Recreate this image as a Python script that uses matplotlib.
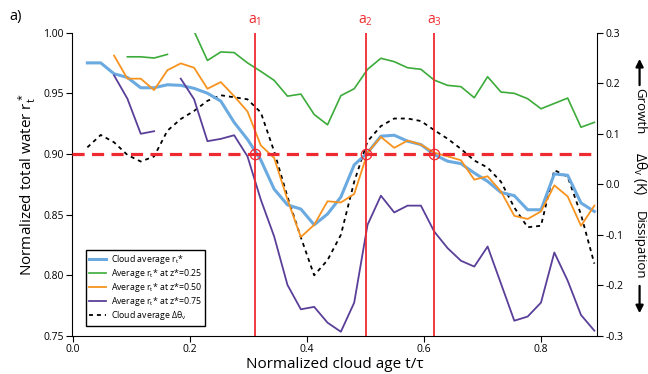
import numpy as np
import matplotlib.pyplot as plt

plt.rcParams['font.family'] = ['Open Sans', 'DejaVu Sans']
plt.rcParams['mathtext.default'] = 'regular'
plt.rcParams['axes.unicode_minus'] = False

nan = np.nan
# normalized cloud age t/tau
age = [0.0244, 0.0472, 0.0700, 0.0928, 0.1156, 0.1384, 0.1612, 0.1840, 0.2068, 0.2296,
       0.2524, 0.2752, 0.2980, 0.3208, 0.3436, 0.3664, 0.3892, 0.4120, 0.4348, 0.4576,
       0.4804, 0.5032, 0.5260, 0.5488, 0.5716, 0.5944, 0.6172, 0.6400, 0.6628, 0.6856,
       0.7084, 0.7312, 0.7540, 0.7768, 0.7996, 0.8224, 0.8452, 0.8680, 0.8908]

rt_cloud = [0.975, 0.975, 0.966, 0.963, 0.9545, 0.9545, 0.957, 0.9565, 0.954, 0.950,
            0.9435, 0.926, 0.912, 0.895, 0.871, 0.858, 0.8546, 0.8416, 0.8505, 0.8645,
            0.891, 0.901, 0.9146, 0.9154, 0.9105, 0.9077, 0.8995, 0.894, 0.892, 0.8843,
            0.8774, 0.8683, 0.8656, 0.854, 0.854, 0.8835, 0.8824, 0.8596, 0.8526]

rt_025 = [nan, nan, nan, 0.980, 0.980, 0.979, 0.982, nan, 1.001, 0.977,
          0.984, 0.9835, 0.975, 0.968, 0.9606, 0.9476, 0.9493, 0.9325, 0.924, 0.948,
          0.9537, 0.9697, 0.9788, 0.976, 0.971, 0.9697, 0.9608, 0.9565, 0.9554, 0.9463,
          0.9636, 0.951, 0.9499, 0.9455, 0.9372, 0.9416, 0.946, 0.922, 0.926]

rt_050 = [nan, nan, 0.981, 0.962, 0.962, 0.9526, 0.969, 0.9746, 0.971, 0.9537,
          0.9592, 0.9476, 0.935, 0.907, 0.8967, 0.8623, 0.8315, 0.8416, 0.861, 0.860,
          0.867, 0.901, 0.914, 0.905, 0.911, 0.9077, 0.901, 0.898, 0.8948, 0.8788,
          0.8816, 0.8691, 0.849, 0.8464, 0.8526, 0.8741, 0.865, 0.8408, 0.8574]

rt_075 = [nan, nan, 0.9647, 0.9455, 0.9166, 0.9187, nan, 0.962, 0.945, 0.9105,
          0.9124, 0.9154, 0.898, 0.8623, 0.832, 0.792, 0.772, 0.774, 0.761, 0.7535,
          0.7775, 0.8416, 0.8656, 0.8518, 0.8574, 0.8574, 0.836, 0.8224, 0.812, 0.8072,
          0.8237, 0.7932, 0.7626, 0.766, 0.7775, 0.8188, 0.7956, 0.7673, 0.7544]

dtheta = [0.073, 0.0975, 0.083, 0.058, 0.045, 0.055, 0.106, 0.129, 0.145, 0.165,
          0.176, 0.172, 0.168, 0.142, 0.065, -0.025, -0.105, -0.180, -0.150, -0.100,
          0.005, 0.085, 0.115, 0.130, 0.130, 0.125, 0.107, 0.090, 0.070, 0.047,
          0.033, 0.005, -0.046, -0.085, -0.082, 0.028, 0.015, -0.060, -0.157]

a_times = [0.311, 0.500, 0.617]
a_names = ['a$_1$', 'a$_2$', 'a$_3$']
threshold = 0.90

fig = plt.figure(figsize=(6.48, 3.74), dpi=100)
ax = fig.add_axes([0.111, 0.1016, 0.81, 0.8114])
ax2 = ax.twinx()

l1, = ax.plot(age, rt_cloud, color='#6aaae0', lw=2.2, label='Cloud average r$_t$*')
l2, = ax.plot(age, rt_025, color='#3cab3a', lw=1.2, label='Average r$_t$* at z*=0.25')
l3, = ax.plot(age, rt_050, color='#f7931e', lw=1.3, label='Average r$_t$* at z*=0.50')
l4, = ax.plot(age, rt_075, color='#5a3f99', lw=1.3, label='Average r$_t$* at z*=0.75')
l5, = ax2.plot(age, dtheta, color='black', lw=1.3, ls=(0, (2.2, 2.2)), label='Cloud average Δθ$_v$')

# threshold line and crossing times (drawn on the left axis scale)
ax.axhline(threshold, color='#ee2a30', lw=2.3, ls=(0, (3.8, 2.3)), zorder=8)
for t, n in zip(a_times, a_names):
    ax.axvline(t, color='#ee2a30', lw=1.3, zorder=8)
    ax.plot(t, threshold, 'o', mfc='none', mec='#ee2a30', ms=7.5, mew=0.9, zorder=9)
    ax.text(t, 1.004, n, color='#ee2a30', ha='center', va='bottom', fontsize=10, clip_on=False)
ax.set_zorder(ax2.get_zorder() + 1)
ax.patch.set_visible(False)

ax.set_xlim(-0.002, 0.895)
ax.set_ylim(0.75, 1.0)
ax2.set_ylim(-0.3, 0.3)

ax.set_xticks([0.0, 0.2, 0.4, 0.6, 0.8])
ax.set_xticklabels(['0.0', '0.2', '0.4', '0.6', '0.8'])
ax.set_yticks([0.75, 0.80, 0.85, 0.90, 0.95, 1.00])
ax.set_yticklabels(['0.75', '0.80', '0.85', '0.90', '0.95', '1.00'])
ax2.set_yticks([-0.3, -0.2, -0.1, 0.0, 0.1, 0.2, 0.3])
ax2.set_yticklabels(['-0.3', '-0.2', '-0.1', '0.0', '0.1', '0.2', '0.3'])

for a in (ax, ax2):
    a.spines['top'].set_visible(False)
    a.tick_params(labelsize=7.5, length=4, width=0.8, pad=2)
ax.spines['right'].set_visible(False)
ax2.spines['left'].set_visible(False)
ax2.spines['bottom'].set_visible(False)

ax.set_xlabel('Normalized cloud age t/τ', fontsize=11, labelpad=1.5)
ax.set_ylabel('Normalized total water r$_t^*$', fontsize=11, labelpad=4)

# right side label with growth / dissipation arrows
fig.text(0.987, 0.535, 'Δθ$_v$ (K)', rotation=270, ha='center', va='center', fontsize=10)
fig.text(0.987, 0.703, 'Growth', rotation=270, ha='center', va='center', fontsize=9.5)
fig.text(0.987, 0.345, 'Dissipation', rotation=270, ha='center', va='center', fontsize=9.5)
ax.annotate('', xy=(0.987, 0.85), xytext=(0.987, 0.765), xycoords='figure fraction',
            textcoords='figure fraction', annotation_clip=False,
            arrowprops=dict(arrowstyle='-|>', lw=1.6, color='black', mutation_scale=11))
ax.annotate('', xy=(0.987, 0.155), xytext=(0.987, 0.243), xycoords='figure fraction',
            textcoords='figure fraction', annotation_clip=False,
            arrowprops=dict(arrowstyle='-|>', lw=1.6, color='black', mutation_scale=11))

fig.text(0.015, 0.955, 'a)', fontsize=10.5, ha='left', va='center')

leg = ax.legend(handles=[l1, l2, l3, l4, l5], loc='lower left', bbox_to_anchor=(0.018, 0.02),
                fontsize=6.3, frameon=True, fancybox=False, edgecolor='black', framealpha=1,
                handlelength=2.0, labelspacing=0.12, borderpad=0.35, handletextpad=0.5)
leg.get_frame().set_linewidth(1.0)
leg.set_zorder(10)

fig.savefig('out.png', dpi=100)
